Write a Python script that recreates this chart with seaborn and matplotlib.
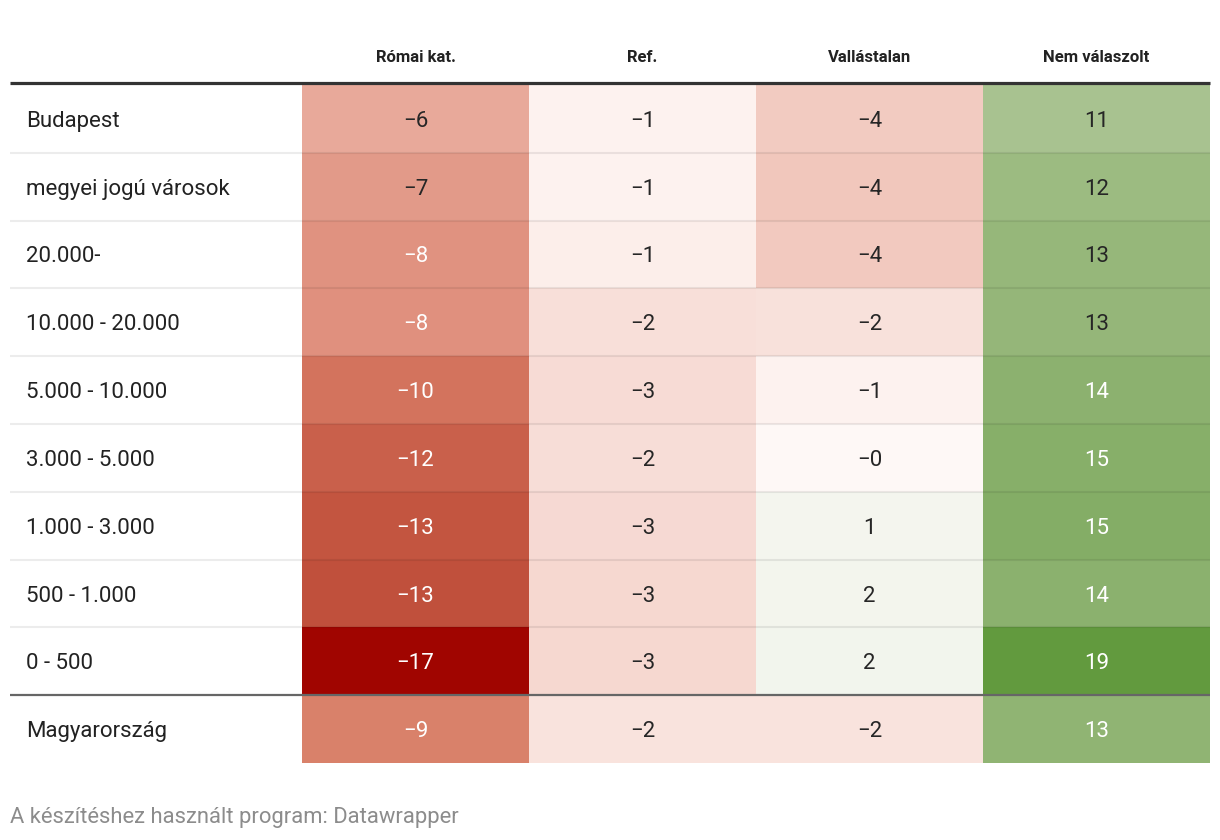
import pandas as pd
import seaborn as sns
import matplotlib.pyplot as plt
from matplotlib.colors import LinearSegmentedColormap
from matplotlib.transforms import blended_transform_factory

plt.rcParams['font.family'] = ['Roboto', 'DejaVu Sans']

rows = ["Budapest", "megyei jogú városok", "20.000-", "10.000 - 20.000",
        "5.000 - 10.000", "3.000 - 5.000", "1.000 - 3.000", "500 - 1.000",
        "0 - 500", "Magyarország"]
cols = ["Római kat.", "Ref.", "Vallástalan", "Nem válaszolt"]

# values (decimals estimated from the cell shades)
romai = [-6.1, -7.0, -7.8, -8.0, -10.2, -11.8, -12.8, -13.2, -17.0, -8.9]
ref = [-0.8, -0.7, -1.0, -2.3, -2.6, -2.4, -2.7, -2.8, -2.9, -2.0]
vallas = [-3.8, -4.2, -4.0, -2.1, -0.8, -0.3, 1.2, 1.7, 1.8, -2.0]
nem = [10.8, 12.0, 12.6, 12.7, 13.8, 14.6, 15.0, 14.0, 19.0, 13.3]

vmin, vmax = -17, 19
stops = [(-17, '#a00500'), (-13, '#c2543f'), (-12, '#c95f4a'), (-10, '#d4765f'),
         (-9, '#d98069'), (-8, '#e0907e'), (-7, '#e29a89'), (-6, '#e9ab9c'),
         (-4, '#f2c9bf'), (-2, '#f9e3de'), (-1, '#fcefeb'), (0, '#fffcfb'),
         (1, '#f4f5ee'), (2, '#f2f5ed'), (11, '#a6c18e'), (13, '#93b576'),
         (15, '#84ad66'), (19, '#629a3e')]
cmap = LinearSegmentedColormap.from_list(
    "dw", [((v - vmin) / (vmax - vmin), c) for v, c in stops])

df = pd.DataFrame({cols[0]: romai, cols[1]: ref, cols[2]: vallas, cols[3]: nem},
                  index=rows)
labels = df.map(lambda v: f"{v:.0f}".replace("-", "\u2212"))

W, H = 1220, 840
fig = plt.figure(figsize=(W / 100, H / 100), dpi=100)
ax = fig.add_axes([302 / W, 1 - 763 / H, 908 / W, 678 / H])

sns.heatmap(df, ax=ax, cmap=cmap, vmin=vmin, vmax=vmax, cbar=False,
            annot=labels.values, fmt="",
            annot_kws={"fontsize": 16, "va": "center_baseline"},
            xticklabels=False, yticklabels=False)
ax.set_xlabel("")
ax.set_ylabel("")
ax.tick_params(length=0)

# column headers
for j, c in enumerate(cols):
    ax.text(j + 0.5, -0.41, c, ha='center', va='center', fontsize=12,
            fontweight='bold', color='#222222', clip_on=False)

# row labels
tr = blended_transform_factory(fig.transFigure, ax.transData)
for i, r in enumerate(rows):
    ax.text(26 / W, i + 0.5, r, transform=tr, ha='left', va='center_baseline',
            fontsize=16, color='#222222')

# rules
yt = ax.get_yaxis_transform()
x0 = (10 - 302) / 908
ax.hlines(range(1, 9), x0, 1, transform=yt, colors='black', alpha=0.075,
          lw=1.5, clip_on=False)
ax.hlines(9, x0, 1, transform=yt, colors='#666666', lw=1.6, clip_on=False)
ax.hlines(-0.03, x0, 1, transform=yt, colors='#333333', lw=2.3, clip_on=False)

fig.text(10 / W, 1 - 815 / H, "A készítéshez használt program: Datawrapper",
         ha='left', va='center_baseline', fontsize=15.8, color='#8c8c8c')

fig.savefig("out.png", dpi=100)
